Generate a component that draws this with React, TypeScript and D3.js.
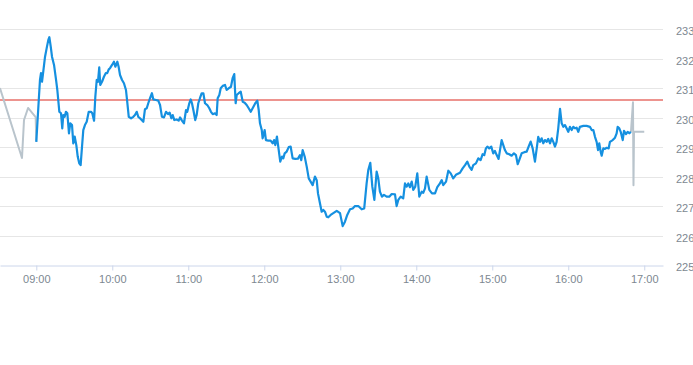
import { useEffect, useRef } from "react"
import * as d3 from "d3"

// minutes after 09:00 and price
const preMarket: [number, number][] = [
  [-28.7, 231.01], [-11.3, 228.63], [-9.7, 229.92], [-6.5, 230.33], [-0.5, 230.02], [0, 229.18],
]

const session: [number, number][] = [
  [0, 229.18], [1.1, 229.98], [2.1, 230.71], [2.9, 231.28], [3.7, 231.51], [4.5, 231.22], [5.5, 231.56],
  [6.9, 232.07], [8.2, 232.36], [9.5, 232.64], [10.3, 232.73], [11.4, 232.41], [12.4, 232.07], [14.0, 231.79],
  [15.6, 231.28], [16.6, 230.94], [18.2, 230.2], [19.5, 230.15], [20.5, 229.64], [21.3, 230.09], [22.4, 230.03],
  [23.4, 230.2], [24.5, 230.15], [25.8, 229.47], [26.8, 229.81], [28.2, 229.75], [29.2, 229.13], [30.3, 229.36],
  [31.6, 229.07], [32.7, 228.68], [33.9, 228.45], [35.0, 228.39], [36.1, 229.02], [37.1, 229.58], [38.4, 229.75],
  [39.8, 229.86], [41.4, 230.2], [43.2, 230.2], [44.2, 230.15], [45.6, 229.9], [46.6, 230.71], [47.7, 231.28],
  [48.7, 231.22], [49.7, 231.71], [50.5, 231.11], [51.9, 231.22], [53.4, 231.39], [54.8, 231.51], [56.0, 231.51],
  [57.2, 231.64], [58.2, 231.68], [59.8, 231.79], [61.3, 231.9], [62.4, 231.73], [64.0, 231.9], [65.0, 231.73],
  [66.1, 231.45], [67.7, 231.28], [69.2, 231.17], [70.8, 230.94], [71.8, 230.54], [73.0, 230.03], [74.8, 229.98],
  [76.6, 230.03], [77.9, 230.09], [79.3, 230.2], [80.5, 230.03], [81.9, 229.98], [83.2, 229.92], [84.5, 229.86],
  [85.8, 230.29], [87.2, 230.32], [88.4, 230.49], [89.8, 230.66], [91.3, 230.83], [92.4, 230.62], [94.5, 230.6],
  [96.3, 230.58], [97.7, 230.43], [99.2, 230.03], [100.8, 230.01], [102.4, 230.2], [104.0, 230.12], [105.3, 230.17],
  [106.6, 229.98], [107.7, 230.09], [109.0, 229.92], [110.8, 229.94], [112.4, 229.9], [113.5, 230.01], [115.0, 229.9],
  [116.6, 229.81], [118.2, 230.26], [119.2, 230.2], [120.8, 230.49], [121.9, 230.62], [122.9, 230.49], [124.0, 230.26],
  [125.5, 229.92], [126.6, 230.09], [127.9, 230.49], [129.2, 230.66], [130.6, 230.83], [131.9, 230.83], [133.2, 230.49],
  [135.0, 230.43], [136.6, 230.32], [137.9, 230.2], [139.3, 230.12], [141.1, 230.15], [142.4, 230.09], [143.2, 230.66],
  [144.5, 230.77], [145.6, 231.0], [147.2, 231.08], [149.0, 231.11], [150.3, 230.94], [152.1, 231.0], [153.7, 231.05],
  [155.0, 231.34], [156.3, 231.48], [157.4, 230.49], [158.2, 230.77], [159.8, 230.83], [161.4, 230.88], [163.0, 230.54],
  [164.5, 230.51], [166.1, 230.43], [167.7, 230.32], [169.3, 230.2], [170.8, 230.32], [172.9, 230.49], [174.5, 230.58],
  [175.6, 230.26], [176.6, 229.81], [178.0, 229.58], [178.7, 229.3], [180.3, 229.58], [181.3, 229.24], [183.2, 229.22],
  [185.0, 229.22], [186.6, 229.13], [187.7, 229.24], [188.7, 229.07], [190.0, 229.36], [191.4, 228.9], [192.6, 228.51],
  [194.0, 228.68], [195.0, 228.62], [196.1, 228.79], [197.7, 228.85], [199.3, 229.0], [200.8, 229.02], [202.4, 228.62],
  [204.5, 228.6], [206.6, 228.61], [208.2, 228.73], [209.2, 228.56], [210.3, 228.9], [211.9, 228.68], [213.5, 228.34],
  [215.1, 227.94], [216.6, 227.83], [218.2, 227.71], [220.0, 228.0], [221.4, 227.88], [222.4, 227.43], [224.0, 227.09],
  [225.3, 226.81], [226.6, 226.87], [227.9, 226.81], [229.3, 226.64], [230.5, 226.62], [232.4, 226.7], [234.5, 226.76],
  [237.2, 226.84], [239.8, 226.76], [241.9, 226.32], [243.7, 226.47], [245.5, 226.7], [247.7, 226.89], [249.8, 226.92],
  [251.6, 227.0], [254.2, 227.0], [256.9, 226.89], [258.9, 226.92], [260.8, 227.77], [262.1, 228.22], [263.7, 228.47],
  [265.3, 227.66], [266.9, 227.21], [268.7, 228.17], [270.0, 227.94], [271.3, 227.49], [272.9, 227.32], [274.5, 227.38],
  [276.6, 227.32], [278.7, 227.32], [280.6, 227.41], [283.2, 227.4], [284.5, 227.0], [285.8, 227.21], [287.7, 227.32],
  [289.7, 227.26], [291.1, 227.77], [292.4, 227.66], [293.7, 227.77], [295.0, 227.64], [296.4, 227.83], [297.6, 227.55],
  [299.2, 227.66], [300.8, 228.11], [302.4, 227.32], [304.3, 227.49], [305.5, 227.45], [306.9, 227.6], [308.2, 228.0],
  [310.3, 227.55], [312.4, 227.43], [314.8, 227.43], [316.6, 227.64], [318.7, 227.77], [320.1, 227.88], [321.3, 227.71],
  [323.5, 227.83], [325.3, 228.2], [327.2, 228.11], [329.2, 227.94], [331.3, 228.06], [334.5, 228.13], [336.6, 228.28],
  [338.5, 228.39], [340.3, 228.51], [341.9, 228.34], [343.7, 228.23], [345.0, 228.39], [347.1, 228.45], [349.0, 228.62],
  [350.8, 228.56], [352.4, 228.76], [353.7, 228.73], [355.0, 228.96], [356.1, 229.02], [357.6, 228.96], [359.2, 229.02],
  [360.8, 228.79], [362.1, 228.87], [363.5, 228.73], [365.0, 228.6], [366.1, 228.9], [367.4, 229.24], [368.7, 229.07],
  [370.0, 228.9], [371.4, 228.79], [373.4, 228.76], [375.3, 228.71], [377.1, 228.79], [378.7, 228.73], [380.1, 228.42],
  [381.3, 228.56], [383.2, 228.79], [385.3, 228.83], [387.2, 228.85], [388.7, 229.02], [390.3, 229.19], [391.9, 228.96],
  [393.7, 228.51], [395.1, 228.96], [396.3, 229.35], [397.7, 229.18], [399.0, 229.3], [400.3, 229.13], [401.6, 229.24],
  [402.9, 229.18], [404.2, 229.28], [405.6, 229.13], [406.9, 229.3], [408.2, 229.18], [409.5, 229.02], [410.8, 229.18],
  [412.1, 229.64], [413.5, 230.3], [414.8, 229.81], [416.1, 229.69], [417.4, 229.75], [418.7, 229.64], [420.0, 229.52],
  [421.3, 229.69], [422.7, 229.58], [424.0, 229.69], [425.3, 229.64], [426.6, 229.66], [427.9, 229.52], [429.2, 229.69],
  [431.9, 229.72], [434.5, 229.72], [437.1, 229.69], [438.5, 229.58], [439.8, 229.58], [441.1, 229.35], [442.4, 229.18],
  [443.5, 228.9], [444.5, 229.13], [445.6, 228.84], [446.4, 228.71], [447.7, 228.96], [449.0, 228.94], [450.3, 228.98],
  [451.9, 228.96], [452.9, 229.18], [455.1, 229.24], [456.9, 229.32], [458.2, 229.47], [459.0, 229.69], [460.3, 229.64],
  [461.4, 229.52], [463.0, 229.24], [464.0, 229.55], [465.6, 229.44], [466.9, 229.52], [468.2, 229.47], [469.5, 229.52],
]

const afterHours: [number, number][] = [
  [469.5, 229.52], [471.1, 230.52], [471.5, 227.71], [471.9, 229.52], [480, 229.52],
]

const previousClose = 230.6
const yTicks = [225, 226, 227, 228, 229, 230, 231, 232, 233]
const xTickHours = [9, 10, 11, 12, 13, 14, 15, 16, 17]

const base = new Date(2024, 0, 2, 9, 0, 0)
const toDate = (m: number) => new Date(base.getTime() + m * 60000)

export default function App() {
  const svgRef = useRef<SVGSVGElement>(null)

  useEffect(() => {
    if (!svgRef.current) return
    const svg = d3.select(svgRef.current)
    svg.selectAll("*").remove()

    const plotRight = 663
    const x = d3
      .scaleTime()
      .domain([toDate(-28.66), toDate(494.8)])
      .range([0, plotRight])
    const y = d3.scaleLinear().domain([225, 233]).range([265, 29.3])

    const font = "'Liberation Sans', Arial, sans-serif"
    const labelColor = "#7d8891"

    // grid lines
    svg
      .append("g")
      .selectAll("line")
      .data(yTicks.filter((d) => d !== 225))
      .enter()
      .append("line")
      .attr("x1", 0)
      .attr("x2", plotRight)
      .attr("y1", (d) => Math.round(y(d)) + 0.5)
      .attr("y2", (d) => Math.round(y(d)) + 0.5)
      .attr("stroke", "#e6e6e6")
      .attr("stroke-width", 1)

    // y labels on the right
    svg
      .append("g")
      .selectAll("text")
      .data(yTicks)
      .enter()
      .append("text")
      .attr("x", 676)
      .attr("y", (d) => y(d) + 6)
      .attr("font-family", font)
      .attr("font-size", "11px")
      .attr("fill", labelColor)
      .text((d) => d)

    // x axis
    const tickDates = xTickHours.map((h) => toDate((h - 9) * 60))
    const xAxis = d3
      .axisBottom(x)
      .tickValues(tickDates)
      .tickSize(5)
      .tickSizeOuter(0)
      .tickFormat((d) => d3.timeFormat("%H:%M")(d as Date))

    const axisG = svg.append("g").attr("transform", "translate(0, 265.5)").call(xAxis)
    axisG.select(".domain").attr("stroke", "#ccd6eb")
    axisG.selectAll(".tick line").attr("stroke", "#ccd6eb")
    axisG
      .selectAll(".tick text")
      .attr("font-family", font)
      .attr("font-size", "11px")
      .attr("fill", labelColor)
      .attr("dy", "0.9em")

    // previous close line
    svg
      .append("line")
      .attr("x1", 0)
      .attr("x2", plotRight)
      .attr("y1", y(previousClose))
      .attr("y2", y(previousClose))
      .attr("stroke", "#dc2a20")
      .attr("stroke-width", 1.1)

    const line = d3
      .line<[number, number]>()
      .x((d) => x(toDate(d[0])))
      .y((d) => y(d[1]))

    svg
      .append("path")
      .datum(preMarket)
      .attr("d", line)
      .attr("fill", "none")
      .attr("stroke", "#b9c4cc")
      .attr("stroke-width", 2)
      .attr("stroke-linejoin", "round")

    svg
      .append("path")
      .datum(afterHours)
      .attr("d", line)
      .attr("fill", "none")
      .attr("stroke", "#b9c4cc")
      .attr("stroke-width", 2)
      .attr("stroke-linejoin", "round")

    svg
      .append("path")
      .datum(session)
      .attr("d", line)
      .attr("fill", "none")
      .attr("stroke", "#1590e0")
      .attr("stroke-width", 2.2)
      .attr("stroke-linejoin", "round")
  }, [])

  return (
    <svg
      ref={svgRef}
      width={693}
      height={365}
      style={{ position: "absolute", left: 0, top: 0, background: "#fff" }}
    />
  )
}
